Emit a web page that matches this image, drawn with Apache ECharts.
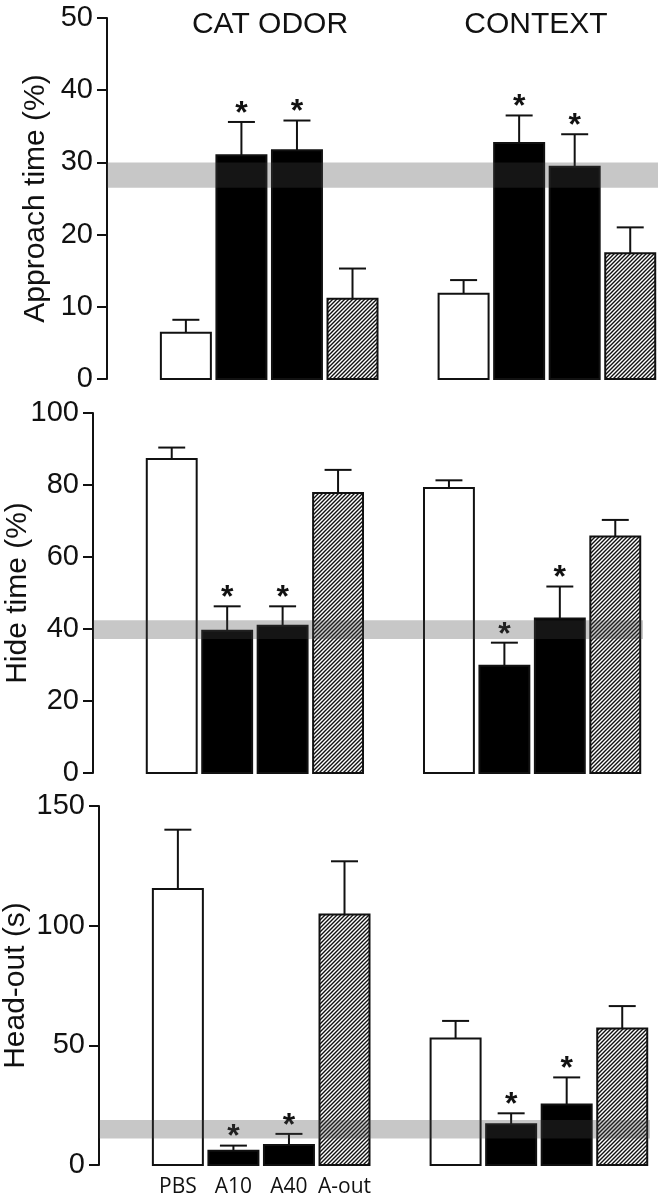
<!DOCTYPE html>
<html><head><meta charset="utf-8">
<script src="https://cdn.jsdelivr.net/npm/echarts@6/dist/echarts.min.js"></script>
<style>html,body{margin:0;padding:0;background:#fff}#c{width:672px;height:1200px}</style>
</head><body><div id="c"></div>
<script>
// ---- data ----
const groups = ['CAT ODOR', 'CONTEXT'];
const treatments = ['PBS', 'A10', 'A40', 'A-out'];
const significant = [false, true, true, false];

const approachCat = [6.4, 31.0, 31.7, 11.1];
const approachCatSem = [1.8, 4.6, 4.1, 4.2];
const approachCtx = [11.8, 32.7, 29.4, 17.4];
const approachCtxSem = [1.9, 3.8, 4.5, 3.6];
const approachBand = [26.5, 30.0];
const approachTicks = [0, 10, 20, 30, 40, 50];

const hideCat = [87.2, 39.5, 40.9, 77.8];
const hideCatSem = [3.2, 6.8, 5.4, 6.4];
const hideCtx = [79.2, 29.8, 42.9, 65.7];
const hideCtxSem = [2.1, 6.4, 8.9, 4.6];
const hideBand = [37.2, 42.4];
const hideTicks = [0, 20, 40, 60, 80, 100];

const headCat = [115.3, 6.0, 8.4, 104.7];
const headCatSem = [24.8, 2.1, 4.6, 22.2];
const headCtx = [52.9, 17.0, 25.3, 57.0];
const headCtxSem = [7.3, 4.6, 11.3, 9.4];
const headBand = [11.1, 18.8];
const headTicks = [0, 50, 100, 150];

// ---- layout ----
const FONT = '"Liberation Sans", Arial, sans-serif';
const panels = [
  {name: 'Approach time (%)', cat: approachCat, catSem: approachCatSem, ctx: approachCtx, ctxSem: approachCtxSem, band: approachBand, ticks: approachTicks,
   grid: {left: 107, right: 14, top: 18, height: 361, outerBoundsMode: 'none'}, nameGap: 56, labels: false},
  {name: 'Hide time (%)', cat: hideCat, catSem: hideCatSem, ctx: hideCtx, ctxSem: hideCtxSem, band: hideBand, ticks: hideTicks,
   grid: {left: 93, right: 29, top: 413, height: 360, outerBoundsMode: 'none'}, nameGap: 60, labels: false},
  {name: 'Head-out (s)', cat: headCat, catSem: headCatSem, ctx: headCtx, ctxSem: headCtxSem, band: headBand, ticks: headTicks,
   grid: {left: 99, right: 22, top: 806, height: 359, outerBoundsMode: 'none'}, nameGap: 68, labels: true}
];

// hatch pattern for A-out bars
function makeHatch() {
  const s = 4;
  const cv = document.createElement('canvas');
  cv.width = s; cv.height = s;
  const c = cv.getContext('2d');
  c.fillStyle = '#fff'; c.fillRect(0, 0, s, s);
  c.strokeStyle = '#111'; c.lineWidth = 1.4;
  c.beginPath();
  c.moveTo(0, s); c.lineTo(s, 0);
  c.moveTo(-1, 1); c.lineTo(1, -1);
  c.moveTo(s - 1, s + 1); c.lineTo(s + 1, s - 1);
  c.stroke();
  return {image: cv, repeat: 'repeat'};
}
const hatch = makeHatch();

const chart = echarts.init(document.getElementById('c'), null, {renderer: 'canvas'});

const grids = [], xAxes = [], yAxes = [], series = [];
panels.forEach((p, i) => {
  grids.push(p.grid);
  xAxes.push({type: 'value', gridIndex: i, min: -1.42, max: 8.5, show: false});
  yAxes.push({
    type: 'value', gridIndex: i,
    min: p.ticks[0], max: p.ticks[p.ticks.length - 1], interval: p.ticks[1] - p.ticks[0],
    name: p.name, nameLocation: 'middle', nameGap: p.nameGap, nameMoveOverlap: false,
    nameTextStyle: {fontSize: 30, fontFamily: FONT, color: '#111'},
    axisLine: {show: true, onZero: false, lineStyle: {color: '#111', width: 2}},
    axisTick: {show: true, length: 10, lineStyle: {color: '#111', width: 2}},
    axisLabel: {fontSize: 29, fontFamily: FONT, color: '#111', margin: 14},
    splitLine: {show: false}
  });
  const data = [];
  [[p.cat, p.catSem], [p.ctx, p.ctxSem]].forEach((g, gi) => {
    g[0].forEach((v, ti) => data.push([gi * (treatments.length + 1) + ti, v, g[1][ti], ti, gi]));
  });
  series.push({
    type: 'custom', xAxisIndex: i, yAxisIndex: i, z: 2,
    data: data,
    renderItem: function (params, api) {
      const x = api.value(0), v = api.value(1), sem = api.value(2), t = api.value(3), gi = api.value(4);
      const base = api.coord([x, 0]);
      const top = api.coord([x, v]);
      const eTop = api.coord([x, v + sem]);
      const w = api.size([0.9, 0])[0];
      const capW = w * 0.54;
      const fill = t === 0 ? '#fff' : (t === 3 ? hatch : '#000');
      const children = [
        {type: 'line', shape: {x1: top[0], y1: top[1], x2: eTop[0], y2: eTop[1]}, style: {stroke: '#111', lineWidth: 2}},
        {type: 'line', shape: {x1: eTop[0] - capW / 2, y1: eTop[1], x2: eTop[0] + capW / 2, y2: eTop[1]}, style: {stroke: '#111', lineWidth: 2}},
        {type: 'rect', shape: {x: base[0] - w / 2, y: top[1], width: w, height: base[1] - top[1]},
         style: {fill: fill, stroke: '#111', lineWidth: 2}}
      ];
      if (significant[t]) {
        children.push({type: 'text', x: eTop[0], y: eTop[1] - 8,
          style: {text: '*', fill: '#111', fontSize: 32, fontWeight: 'bold', fontFamily: FONT, textAlign: 'center', textVerticalAlign: 'middle'}});
      }
      if (p.labels && gi === 0) {
        children.push({type: 'text', x: base[0], y: base[1] + 22,
          style: {text: treatments[t], fill: '#111', fontSize: 21, fontFamily: '"Open Sans", sans-serif', textAlign: 'center', textVerticalAlign: 'middle'}});
      }
      return {type: 'group', children: children};
    }
  });
  series.push({
    type: 'custom', xAxisIndex: i, yAxisIndex: i, z: 5, silent: true,
    data: [[p.band[0], p.band[1]]],
    renderItem: function (params, api) {
      const cs = params.coordSys;
      const lo = api.coord([0, api.value(0)]);
      const hi = api.coord([0, api.value(1)]);
      return {type: 'rect', shape: {x: cs.x, y: hi[1], width: cs.width, height: lo[1] - hi[1]},
        style: {fill: 'rgba(70,70,70,0.3)'}};
    }
  });
});

chart.setOption({
  animation: false,
  title: [
    {text: groups[0], left: 265, top: 5, textAlign: 'center', textStyle: {fontSize: 30, fontWeight: 'normal', fontFamily: FONT, color: '#111'}},
    {text: groups[1], left: 531, top: 5, textAlign: 'center', textStyle: {fontSize: 30, fontWeight: 'normal', fontFamily: FONT, color: '#111'}}
  ],
  grid: grids, xAxis: xAxes, yAxis: yAxes, series: series
});
</script>
</body></html>
